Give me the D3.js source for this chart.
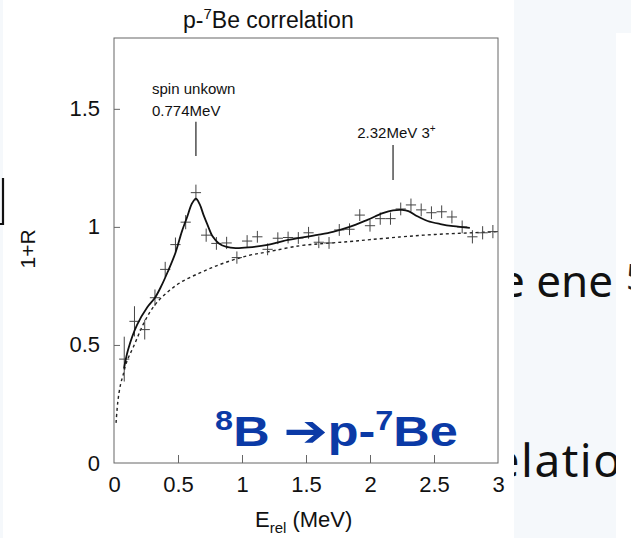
<!DOCTYPE html>
<html>
<head>
<meta charset="utf-8">
<script src="https://cdn.jsdelivr.net/npm/d3@7"></script>
<style>
  body { margin: 0; background: #ffffff; }
  .axis text { font-family: "Liberation Sans", Arial, Helvetica, sans-serif; font-size: 22px; fill: #111; }
  .axis line { stroke: #666; }
</style>
</head>
<body>
<div id="chart"></div>
<script>
// p-7Be correlation: 1+R vs relative energy, data crosses, fit and baseline

// data points (bin centre in MeV, 1+R, error)
var energy = [0.08, 0.16, 0.24, 0.32, 0.40, 0.48, 0.56, 0.64, 0.72, 0.80, 0.88, 0.96,
  1.04, 1.12, 1.20, 1.28, 1.36, 1.44, 1.52, 1.60, 1.68, 1.76, 1.84, 1.92, 2.00,
  2.08, 2.16, 2.24, 2.32, 2.40, 2.48, 2.56, 2.64, 2.72, 2.80, 2.88, 2.96];
var ratio = [0.44, 0.60, 0.565, 0.70, 0.82, 0.925, 1.02, 1.145, 0.965, 0.93, 0.932, 0.87,
  0.94, 0.958, 0.905, 0.952, 0.955, 0.953, 0.975, 0.935, 0.932, 0.987, 0.99, 1.05, 1.005,
  1.035, 1.035, 1.076, 1.093, 1.072, 1.06, 1.064, 1.042, 1.0, 0.958, 0.975, 0.98];
var ratioErr = [0.095, 0.064, 0.042, 0.035, 0.032, 0.03, 0.03, 0.034, 0.028, 0.027, 0.026, 0.026,
  0.025, 0.025, 0.025, 0.025, 0.025, 0.025, 0.025, 0.025, 0.025, 0.025, 0.025, 0.025, 0.025,
  0.026, 0.026, 0.027, 0.027, 0.027, 0.027, 0.027, 0.027, 0.027, 0.028, 0.028, 0.028];
var binHalf = 0.04;

// fit curve (solid)
var fitE = [0.078, 0.11, 0.18, 0.26, 0.32, 0.37, 0.42, 0.48, 0.53, 0.57, 0.61, 0.64, 0.67,
  0.70, 0.73, 0.77, 0.82, 0.88, 0.95, 1.05, 1.2, 1.32, 1.45, 1.59, 1.71, 1.84, 1.98,
  2.10, 2.18, 2.25, 2.30, 2.37, 2.45, 2.55, 2.65, 2.78];
var fitR = [0.40, 0.48, 0.585, 0.66, 0.70, 0.75, 0.81, 0.89, 0.98, 1.04, 1.10, 1.12, 1.095,
  1.05, 1.01, 0.96, 0.93, 0.915, 0.91, 0.913, 0.924, 0.94, 0.953, 0.966, 0.979, 1.0, 1.03,
  1.058, 1.07, 1.072, 1.067, 1.045, 1.025, 1.012, 1.003, 0.996];

// non-resonant baseline (dotted)
var baseE = [0.016, 0.03, 0.05, 0.07, 0.10, 0.15, 0.24, 0.32, 0.41, 0.52, 0.67, 0.80, 0.93,
  1.06, 1.2, 1.45, 1.65, 1.84, 2.0, 2.23, 2.42, 2.62, 2.8, 3.0];
var baseR = [0.17, 0.26, 0.33, 0.37, 0.43, 0.49, 0.60, 0.67, 0.72, 0.765, 0.805, 0.835, 0.86,
  0.88, 0.894, 0.92, 0.93, 0.938, 0.946, 0.957, 0.965, 0.971, 0.975, 0.98];

// axes
var xTicks = [0, 0.5, 1, 1.5, 2, 2.5, 3];
var yTicks = [0, 0.5, 1, 1.5];

// level markers
var markE = [0.64, 2.18];
var markTop = [1.445, 1.347];
var markBottom = [1.30, 1.199];

var svgWidth = 631;
var svgHeight = 538;
var margin = { top: 38, right: 133, bottom: 75, left: 114 };
var width = svgWidth - margin.left - margin.right;
var height = svgHeight - margin.top - margin.bottom;
var font = '"Liberation Sans", Arial, Helvetica, sans-serif';

var svg = d3.select("#chart")
  .append("svg")
  .attr("width", svgWidth)
  .attr("height", svgHeight);

// slide background behind the figure
svg.append("rect")
  .attr("x", 0).attr("y", 0)
  .attr("width", svgWidth).attr("height", svgHeight)
  .attr("fill", "#f5f8fb");

var clip = svg.append("defs").append("clipPath").attr("id", "panelClip");
clip.append("rect").attr("x", 514).attr("y", 0).attr("width", 102).attr("height", svgHeight);

var slideText = svg.append("g")
  .attr("clip-path", "url(#panelClip)")
  .style("font-family", '"Noto Sans", "Open Sans", sans-serif')
  .style("font-size", "44px")
  .attr("fill", "#111");
slideText.append("text").attr("x", 613).attr("y", 297).attr("text-anchor", "end").text("the ene");
slideText.append("text").attr("x", 474).attr("y", 477)
  .style("font-size", "46px")
  .style("letter-spacing", "1.5px")
  .text("relation");

// white area right of the panel
svg.append("rect")
  .attr("x", 616).attr("y", 33)
  .attr("width", 15).attr("height", svgHeight - 33)
  .attr("fill", "#ffffff");
svg.append("text")
  .attr("x", 626).attr("y", 290)
  .style("font-family", '"Noto Sans", sans-serif')
  .style("font-size", "36px")
  .attr("fill", "#222")
  .text("5");

// figure area
svg.append("rect")
  .attr("x", 3).attr("y", 0)
  .attr("width", 511).attr("height", svgHeight)
  .attr("fill", "#ffffff");

// bracket at left edge
svg.append("path")
  .attr("d", "M3,178 L3,224 L0,224")
  .attr("fill", "none")
  .attr("stroke", "#111")
  .attr("stroke-width", 2.2);

var chartGroup = svg.append("g")
  .attr("transform", `translate(${margin.left}, ${margin.top})`);

var xScale = d3.scaleLinear().domain([0, 3]).range([0, width]);
var yScale = d3.scaleLinear().domain([0, 1.8]).range([height, 0]);

// axes with inward ticks
var xAxis = chartGroup.append("g")
  .attr("class", "axis")
  .attr("transform", `translate(0, ${height})`)
  .call(d3.axisBottom(xScale).tickValues(xTicks).tickFormat(d3.format("~g"))
    .tickSizeInner(-8).tickSizeOuter(0).tickPadding(13));
xAxis.select(".domain").remove();

var yAxis = chartGroup.append("g")
  .attr("class", "axis")
  .call(d3.axisLeft(yScale).tickValues(yTicks).tickFormat(d3.format("~g"))
    .tickSizeInner(-6).tickSizeOuter(0).tickPadding(14));
yAxis.select(".domain").remove();
xAxis.selectAll(".tick").filter(d => d === 0 || d === 3).select("line").remove();
yAxis.selectAll(".tick").filter(d => d === 0).select("line").remove();

// frame
chartGroup.append("rect")
  .attr("x", 0).attr("y", 0)
  .attr("width", width).attr("height", height)
  .attr("fill", "none")
  .attr("stroke", "#666")
  .attr("stroke-width", 1);

// baseline
var baseLine = d3.line()
  .x((d, i) => xScale(baseE[i]))
  .y((d, i) => yScale(d))
  .curve(d3.curveCatmullRom.alpha(0.5));
chartGroup.append("path")
  .attr("d", baseLine(baseR))
  .attr("fill", "none")
  .attr("stroke", "#222")
  .attr("stroke-width", 1.4)
  .attr("stroke-dasharray", "3,3");

// data crosses
var crosses = chartGroup.selectAll(".cross")
  .data(energy)
  .enter()
  .append("g")
  .attr("class", "cross")
  .attr("stroke", "#444")
  .attr("stroke-width", 1);
crosses.append("line")
  .attr("x1", d => xScale(d - binHalf))
  .attr("x2", d => xScale(d + binHalf))
  .attr("y1", (d, i) => yScale(ratio[i]))
  .attr("y2", (d, i) => yScale(ratio[i]));
crosses.append("line")
  .attr("x1", d => xScale(d))
  .attr("x2", d => xScale(d))
  .attr("y1", (d, i) => yScale(ratio[i] - ratioErr[i]))
  .attr("y2", (d, i) => yScale(ratio[i] + ratioErr[i]));

// fit
var fitLine = d3.line()
  .x((d, i) => xScale(fitE[i]))
  .y((d, i) => yScale(d))
  .curve(d3.curveCatmullRom.alpha(0.5));
chartGroup.append("path")
  .attr("d", fitLine(fitR))
  .attr("fill", "none")
  .attr("stroke", "#111")
  .attr("stroke-width", 1.8);

// level markers
chartGroup.selectAll(".mark")
  .data(markE)
  .enter()
  .append("line")
  .attr("class", "mark")
  .attr("x1", d => xScale(d))
  .attr("x2", d => xScale(d))
  .attr("y1", (d, i) => yScale(markTop[i]))
  .attr("y2", (d, i) => yScale(markBottom[i]))
  .attr("stroke", "#222")
  .attr("stroke-width", 1.2);

var notes = chartGroup.append("g")
  .style("font-family", font)
  .style("font-size", "15px")
  .attr("fill", "#111");
notes.append("text").attr("x", xScale(0.297)).attr("y", yScale(1.563)).text("spin unkown");
notes.append("text").attr("x", xScale(0.297)).attr("y", yScale(1.47)).text("0.774MeV");
var note2 = notes.append("text").attr("x", xScale(1.90)).attr("y", yScale(1.377));
note2.append("tspan").text("2.32MeV 3");
note2.append("tspan").attr("dy", -6).style("font-size", "10px").text("+");

// big label, a little wider than the font
var big = chartGroup.append("text")
  .attr("transform", `translate(${xScale(0.79)}, ${yScale(0.07)}) scale(1.2, 1)`)
  .style("font-family", font)
  .style("font-size", "42px")
  .style("font-weight", "bold")
  .attr("fill", "#0b3aa6");
big.append("tspan").attr("dy", -16).style("font-size", "27px").text("8");
big.append("tspan").attr("dy", 16).text("B ");
big.append("tspan").style("font-family", '"DejaVu Sans", sans-serif').style("font-size", "44px").text("➔");
big.append("tspan").text("p-");
big.append("tspan").attr("dy", -16).style("font-size", "27px").text("7");
big.append("tspan").attr("dy", 16).text("Be");

// title
var title = svg.append("text")
  .attr("x", 183)
  .attr("y", 28)
  .style("font-family", font)
  .style("font-size", "23px")
  .attr("fill", "#111");
title.append("tspan").text("p-");
title.append("tspan").attr("dy", -9).style("font-size", "15px").text("7");
title.append("tspan").attr("dy", 9).text("Be correlation");

// axis labels
var xLabel = svg.append("text")
  .attr("x", 255)
  .attr("y", 527)
  .style("font-family", font)
  .style("font-size", "22px")
  .attr("fill", "#111");
xLabel.append("tspan").text("E");
xLabel.append("tspan").attr("dy", 6).style("font-size", "15px").text("rel");
xLabel.append("tspan").attr("dy", -6).text(" (MeV)");

svg.append("text")
  .attr("transform", "translate(35, 249) rotate(-90)")
  .attr("text-anchor", "middle")
  .style("font-family", font)
  .style("font-size", "21px")
  .attr("fill", "#111")
  .text("1+R");
</script>
</body>
</html>
